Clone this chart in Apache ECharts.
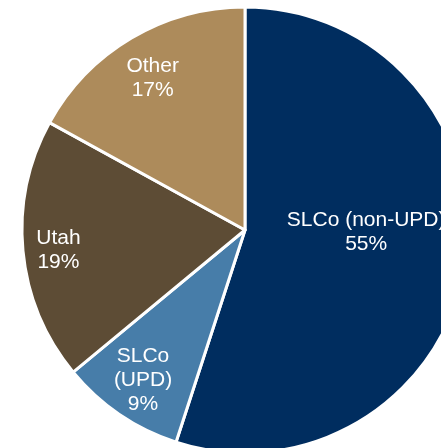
<!DOCTYPE html>
<html>
<head>
<meta charset="utf-8">
<script src="https://cdn.jsdelivr.net/npm/echarts@6/dist/echarts.min.js"></script>
<style>
    html, body { margin: 0; padding: 0; background: #fff; }
    #pie-chart { width: 441px; height: 448px; }
</style>
</head>
<body>
<div id="pie-chart"></div>
<script>
    // 数据
    const categories = ['SLCo (non-UPD)', 'SLCo\n(UPD)', 'Utah', 'Other']
    const shares = [55, 9, 19, 17]
    const colors = ['#002D5F', '#477DA9', '#5D4C35', '#AD8B5B']

    let chart = echarts.init(document.getElementById('pie-chart'))
    let R = 223
    let center = [245, 230]

    let pieData = categories.map((name, i) => {
        return { name: name, value: shares[i], itemStyle: { color: colors[i] } }
    })

    // 标签用的透明环，让标签落在 0.8R 附近，个别再微调
    let labelOffsets = [[-58, -26], [0, 0], [-6, 3], [0, 4]]
    let labelData = categories.map((name, i) => {
        return { name: name, value: shares[i], label: { offset: labelOffsets[i] } }
    })

    let options = {
        animation: false,
        textStyle: {
            fontFamily: ['Liberation Sans', 'Arial']
        },
        series: [
            {
                type: 'pie',
                center: center,
                radius: R,
                startAngle: 90,
                clockwise: true,
                silent: true,
                data: pieData,
                itemStyle: {
                    borderColor: '#ffffff',
                    borderWidth: 3
                },
                label: { show: false },
                labelLine: { show: false }
            },
            {
                type: 'pie',
                center: center,
                radius: [R * 0.6, R],
                startAngle: 90,
                clockwise: true,
                silent: true,
                data: labelData,
                itemStyle: { color: 'transparent' },
                label: {
                    show: true,
                    position: 'inside',
                    color: '#ffffff',
                    fontSize: 21,
                    lineHeight: 24,
                    align: 'center',
                    formatter: (p) => `${p.name}\n${p.value}%`
                },
                labelLine: { show: false }
            }
        ]
    }
    chart.setOption(options)
</script>
</body>
</html>
